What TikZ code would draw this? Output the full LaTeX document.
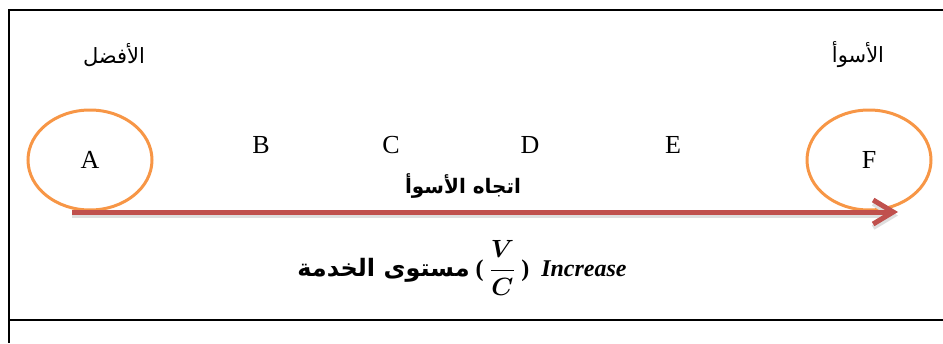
\documentclass[tikz,border=0pt]{standalone}
\usepackage{fontspec}
\setmainfont{Liberation Serif}
\newfontfamily\arabicfont[Script=Arabic]{DejaVu Sans}
\TeXXeTstate=1
\usepackage{tikz}
\usetikzlibrary{arrows.meta,positioning,shapes.geometric}
\definecolor{ringOrange}{HTML}{F79646}
\definecolor{axisRed}{HTML}{C0504D}
\begin{document}
\begin{tikzpicture}[x=1pt, y=-1pt,
  letter/.style={font=\fontsize{26}{28}\selectfont, inner sep=0pt},
  ring/.style={letter, ellipse, draw=ringOrange, line width=3pt, minimum width=124pt, minimum height=100pt},
  arlabel/.style={font=\arabicfont\fontsize{21}{24}\selectfont, inner sep=0pt}]
\useasboundingbox (0,0) rectangle (943,343);
% ---------- table frame ----------
\draw[line width=1.2pt] (943,10) -- (9,10) -- (9,343);
\draw[line width=1.5pt] (9,320) -- (943,320);
% ---------- ends of the scale ----------
\node[arlabel] (best) at (114,55) {\beginR الأفضل\endR};
\node[arlabel] (worst) at (858,55) {\beginR الأسوأ\endR};
% ---------- levels A to F ----------
\node[ring] (A) at (90,160) {A};
\node[letter] (B) at (261,145) {B};
\node[letter] (C) at (391,145) {C};
\node[letter] (D) at (530,145) {D};
\node[letter] (E) at (673,145) {E};
\node[ring] (F) at (869,160) {F};
% ---------- direction arrow ----------
\coordinate (from) at (72,212);
\coordinate (to) at (898,212);
\draw[black!13, line width=5pt, -{Straight Barb[length=20pt, width=24pt]}] ([yshift=-3.5pt]from) -- ([yshift=-3.5pt]to);
\draw[axisRed, line width=5pt, -{Straight Barb[length=20pt, width=24pt]}] (from) -- (to);
\node[arlabel, font=\arabicfont\bfseries\fontsize{20}{23}\selectfont] (toward) at (463,186) {\beginR اتجاه الأسوأ\endR};
% ---------- caption ----------
\node[inner sep=0pt, font=\bfseries\fontsize{24}{28}\selectfont] (caption) at (462,268)
  {{\arabicfont\beginR مستوى الخدمة\endR} ( {\boldmath$\displaystyle\frac{V}{C}$} ) \ \textit{Increase}};
\end{tikzpicture}
\end{document}
